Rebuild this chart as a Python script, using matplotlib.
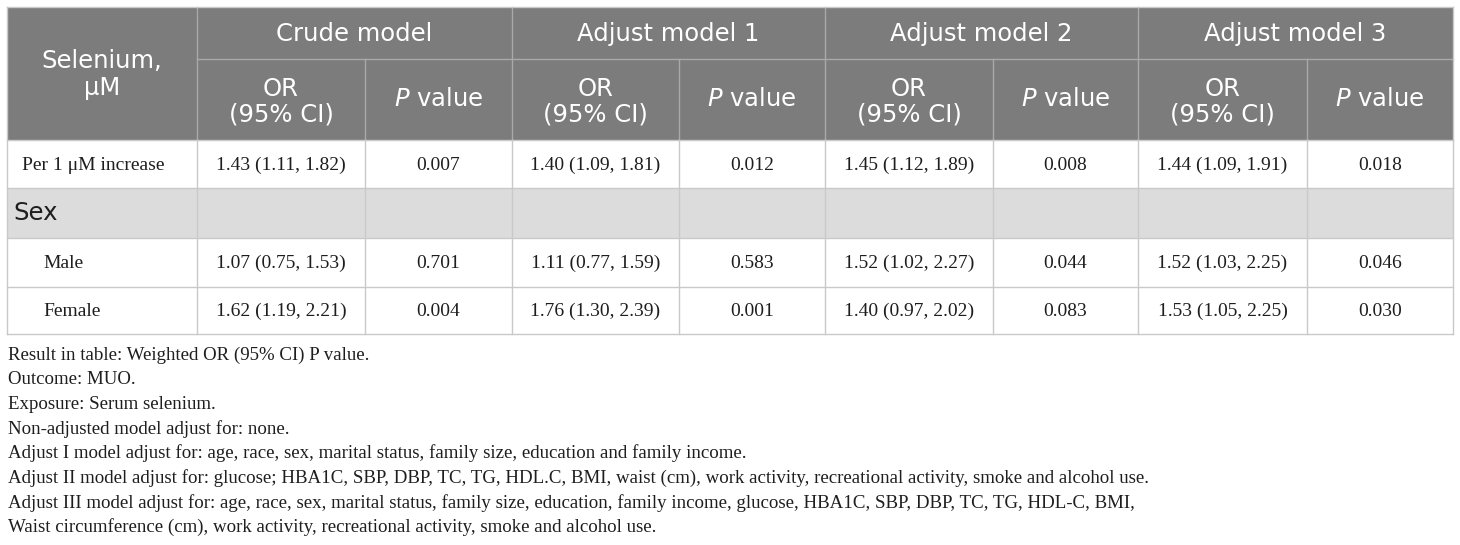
import matplotlib
matplotlib.use("Agg")
import matplotlib.pyplot as plt
from matplotlib.patches import Rectangle

# ---------------- data ----------------
models = ["Crude model", "Adjust model 1", "Adjust model 2", "Adjust model 3"]
row_labels = ["Per 1 μM increase", "Sex", "Male", "Female"]
row_is_group = [False, True, False, False]
row_indent = [False, False, True, True]

# OR, lower CI, upper CI, P for each data row (None for the group row)
crude_or = [(1.43, 1.11, 1.82), None, (1.07, 0.75, 1.53), (1.62, 1.19, 2.21)]
crude_p = ["0.007", None, "0.701", "0.004"]
adj1_or = [(1.40, 1.09, 1.81), None, (1.11, 0.77, 1.59), (1.76, 1.30, 2.39)]
adj1_p = ["0.012", None, "0.583", "0.001"]
adj2_or = [(1.45, 1.12, 1.89), None, (1.52, 1.02, 2.27), (1.40, 0.97, 2.02)]
adj2_p = ["0.008", None, "0.044", "0.083"]
adj3_or = [(1.44, 1.09, 1.91), None, (1.52, 1.03, 2.25), (1.53, 1.05, 2.25)]
adj3_p = ["0.018", None, "0.046", "0.030"]

footnotes = [
    "Result in table: Weighted OR (95% CI) P value.",
    "Outcome: MUO.",
    "Exposure: Serum selenium.",
    "Non-adjusted model adjust for: none.",
    "Adjust I model adjust for: age, race, sex, marital status, family size, education and family income.",
    "Adjust II model adjust for: glucose; HBA1C, SBP, DBP, TC, TG, HDL.C, BMI, waist (cm), work activity, recreational activity, smoke and alcohol use.",
    "Adjust III model adjust for: age, race, sex, marital status, family size, education, family income, glucose, HBA1C, SBP, DBP, TC, TG, HDL-C, BMI,",
    "Waist circumference (cm), work activity, recreational activity, smoke and alcohol use.",
]

# ---------------- layout (pixels) ----------------
W, H = 1460, 545
col_x = [7, 197, 365, 512, 679, 825, 993, 1138, 1307, 1453]
row_y = [7, 59, 140, 188, 238, 287, 334]
foot_y0, foot_dy = 355, 24.6

HEAD_BG = "#7c7c7c"
HEAD_LINE = "#a9a9a9"
GRID = "#c9c9c9"
GROUP_BG = "#dcdcdc"
TXT = "#1e1e1e"
SANS = "DejaVu Sans"
SERIF = "Liberation Serif"
HEAD_FS = 17.5
BODY_FS = 14.0
FOOT_FS = 13.6

plt.rcParams["mathtext.fontset"] = "custom"
plt.rcParams["mathtext.it"] = "DejaVu Sans:italic"
plt.rcParams["mathtext.rm"] = "DejaVu Sans"

fig = plt.figure(figsize=(W / 100, H / 100), dpi=100)
ax = fig.add_axes([0, 0, 1, 1])
ax.set_xlim(0, W)
ax.set_ylim(H, 0)
ax.axis("off")

left, right = col_x[0], col_x[-1]
top, hbot = row_y[0], row_y[2]

# header background
ax.add_patch(Rectangle((left, top), right - left, hbot - top, facecolor=HEAD_BG,
                       edgecolor="none", zorder=1))
# group row background
for i, g in enumerate(row_is_group):
    if g:
        y0, y1 = row_y[2 + i], row_y[3 + i]
        ax.add_patch(Rectangle((left, y0), right - left, y1 - y0, facecolor=GROUP_BG,
                               edgecolor="none", zorder=1))

lw = 1.0
ax.plot([col_x[1], right], [row_y[1], row_y[1]], color=HEAD_LINE, lw=lw, zorder=2)
for k, x in enumerate(col_x[1:-1], start=1):
    if k % 2 == 1:
        ax.plot([x, x], [top, hbot], color=HEAD_LINE, lw=lw, zorder=2)
    else:
        ax.plot([x, x], [row_y[1], hbot], color=HEAD_LINE, lw=lw, zorder=2)

for y in row_y[2:]:
    ax.plot([left, right], [y, y], color=GRID, lw=lw, zorder=2)
ax.plot([left, right], [top, top], color=GRID, lw=lw, zorder=2)
for x in col_x:
    ax.plot([x, x], [hbot, row_y[-1]], color=GRID, lw=lw, zorder=2)
ax.plot([left, left], [top, hbot], color=GRID, lw=lw, zorder=2)
ax.plot([right, right], [top, hbot], color=GRID, lw=lw, zorder=2)

# header text
ax.text((col_x[0] + col_x[1]) / 2, (top + hbot) / 2 + 1, "Selenium,\nμM", color="white",
        fontsize=HEAD_FS, family=SANS, ha="center", va="center", linespacing=1.2, zorder=3)
for m, name in enumerate(models):
    xa, xb, xc = col_x[1 + 2 * m], col_x[2 + 2 * m], col_x[3 + 2 * m]
    ax.text((xa + xc) / 2, (row_y[0] + row_y[1]) / 2 + 1, name, color="white",
            fontsize=HEAD_FS, family=SANS, ha="center", va="center", zorder=3)
    ax.text((xa + xb) / 2, (row_y[1] + row_y[2]) / 2 + 2, "OR\n(95% CI)", color="white",
            fontsize=HEAD_FS, family=SANS, ha="center", va="center", linespacing=1.1, zorder=3)
    ax.text((xb + xc) / 2, (row_y[1] + row_y[2]) / 2, r"$\mathit{P}$ value", color="white",
            fontsize=HEAD_FS, family=SANS, ha="center", va="center", zorder=3)

# body text
or_cols = [crude_or, adj1_or, adj2_or, adj3_or]
p_cols = [crude_p, adj1_p, adj2_p, adj3_p]
for i, lab in enumerate(row_labels):
    yc = (row_y[2 + i] + row_y[3 + i]) / 2
    if row_is_group[i]:
        ax.text(left + 6, yc, lab, color=TXT, fontsize=HEAD_FS, family=SANS,
                ha="left", va="center", zorder=3)
        continue
    xoff = 36 if row_indent[i] else 15
    ax.text(left + xoff, yc + 1, lab, color=TXT, fontsize=BODY_FS, family=SERIF,
            ha="left", va="center", zorder=3)
    for m in range(4):
        xa, xb, xc = col_x[1 + 2 * m], col_x[2 + 2 * m], col_x[3 + 2 * m]
        o, lo, hi = or_cols[m][i]
        ax.text((xa + xb) / 2, yc + 1, f"{o:.2f} ({lo:.2f}, {hi:.2f})", color=TXT,
                fontsize=BODY_FS, family=SERIF, ha="center", va="center", zorder=3)
        ax.text((xb + xc) / 2, yc + 1, p_cols[m][i], color=TXT,
                fontsize=BODY_FS, family=SERIF, ha="center", va="center", zorder=3)

# footnotes
for j, line in enumerate(footnotes):
    ax.text(8, foot_y0 + j * foot_dy, line, color=TXT, fontsize=FOOT_FS, family=SERIF,
            ha="left", va="center", zorder=3)

fig.savefig("out.png", dpi=100, facecolor="white")
